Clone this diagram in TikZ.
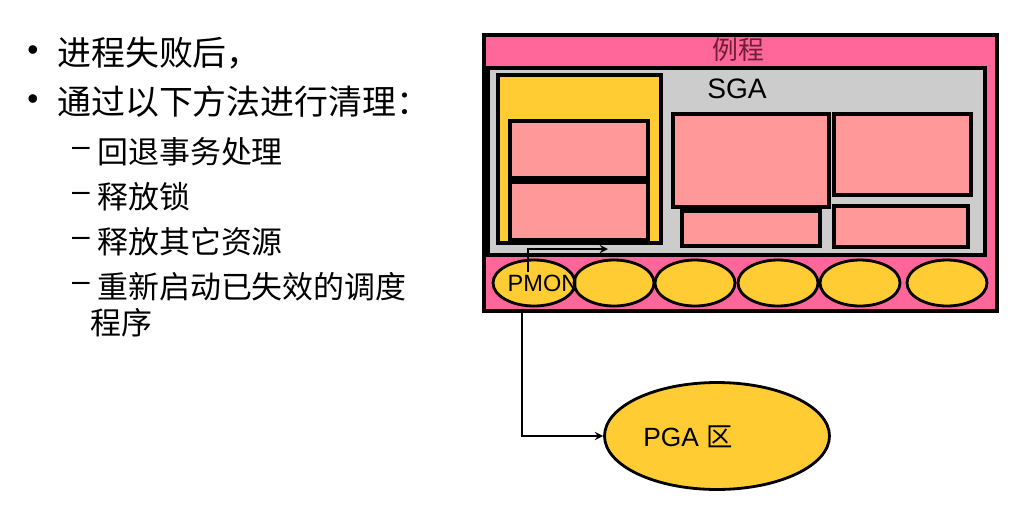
\documentclass[tikz,border=0pt]{standalone}
\usepackage{fontspec}
\setmainfont{Liberation Sans}
\newfontfamily\cjk{Noto Sans CJK SC}
\usetikzlibrary{shapes.geometric, arrows, positioning, calc}

\definecolor{instpink}{RGB}{255,102,153}
\definecolor{sgagray}{RGB}{204,204,204}
\definecolor{poolyellow}{RGB}{255,204,51}
\definecolor{bufpink}{RGB}{255,153,153}
\definecolor{instlabel}{RGB}{110,30,55}

\begin{document}
\begin{tikzpicture}[x=0.02cm, y=-0.02cm,
    box/.style={draw, line width=2.2pt, inner sep=0pt},
    buf/.style={box, fill=bufpink},
    proc/.style={ellipse, draw, line width=1.6pt, fill=poolyellow, minimum width=1.6cm, minimum height=0.92cm, inner sep=0pt},
    arrow/.style={->, line width=1.1pt, >=stealth},
    item/.style={anchor=west, inner sep=0pt, font=\cjk\fontsize{19.3}{22}\selectfont},
    subitem/.style={anchor=west, inner sep=0pt, font=\cjk\fontsize{17.6}{20}\selectfont},
    listmark/.style={inner sep=0pt, font=\fontsize{18}{20}\selectfont}
]
    \useasboundingbox (0,0) rectangle (1024,528);

    % Left text
    \node[listmark] (dot1) at (33,53) {•};
    \node[item] (l1) at (57,53) {进程失败后，};
    \node[listmark] (dot2) at (33,102) {•};
    \node[item] (l2) at (57,102) {通过以下方法进行清理：};
    \node[listmark] (dash1) at (81,152) {–};
    \node[subitem] (l3) at (97,152) {回退事务处理};
    \node[listmark] (dash2) at (81,197) {–};
    \node[subitem] (l4) at (97,197) {释放锁};
    \node[listmark] (dash3) at (81,242) {–};
    \node[subitem] (l5) at (97,242) {释放其它资源};
    \node[listmark] (dash4) at (81,287) {–};
    \node[subitem] (l6) at (97,287) {重新启动已失效的调度};
    \node[subitem] (l7) at (90,323) {程序};

    % Instance
    \node[box, fill=instpink, minimum width=10.26cm, minimum height=5.52cm] (inst) at (740.5,173) {};
    \node[font=\cjk\fontsize{14.7}{16}\selectfont, text=instlabel] (instname) at (738,50) {例程};

    % SGA
    \node[box, line width=2.6pt, fill=sgagray, minimum width=9.94cm, minimum height=3.74cm] (sga) at (736.5,161.5) {};
    \node[font=\fontsize{16}{18}\selectfont] (sganame) at (737,89) {SGA};
    \node[box, fill=poolyellow, minimum width=3.26cm, minimum height=3.36cm] (pool) at (579.5,159) {};
    \node[buf, minimum width=2.76cm, minimum height=1.14cm] (buf1) at (579,149.5) {};
    \node[buf, minimum width=2.76cm, minimum height=1.16cm] (buf2) at (579,211) {};
    \node[buf, minimum width=3.12cm, minimum height=1.86cm] (buf3) at (751,160.5) {};
    \node[buf, minimum width=2.76cm, minimum height=0.70cm] (buf4) at (751,228.5) {};
    \node[buf, minimum width=2.74cm, minimum height=1.62cm] (buf5) at (902.5,154.5) {};
    \node[buf, minimum width=2.68cm, minimum height=0.82cm] (buf6) at (901,226.5) {};

    % Background processes
    \node[proc, minimum width=1.64cm] (pmon) at (534,283) {};
    \node[proc] (bg1) at (614,283) {};
    \node[proc] (bg2) at (695,283) {};
    \node[proc] (bg3) at (778,283) {};
    \node[proc] (bg4) at (860,283) {};
    \node[proc] (bg5) at (947,283) {};
    \node[font=\fontsize{13.4}{15}\selectfont] (pmonname) at (543,283) {PMON};

    % PGA
    \node[proc, minimum width=4.5cm, minimum height=2.14cm] (pga) at (717,436) {};
    \node[font=\fontsize{15}{17}\selectfont] (pganame) at (688,437) {PGA {\cjk 区}};

    % Arrows
    \coordinate (pmontap) at (528,272);
    \coordinate (lruend) at (608,249);
    \draw[arrow] (pmontap) |- (lruend);
    \coordinate (insttap) at (522,311);
    \draw[arrow] (insttap) |- (pga.west);
\end{tikzpicture}
\end{document}
